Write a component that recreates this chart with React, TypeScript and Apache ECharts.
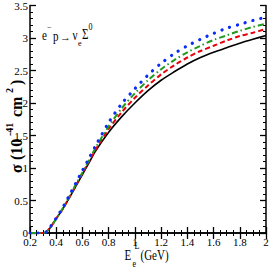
import React, { useEffect, useRef } from "react";
import * as echarts from "echarts";

const energies = [0.2, 0.25, 0.3, 0.32, 0.35, 0.4, 0.45, 0.5, 0.55, 0.6, 0.65, 0.7, 0.8, 0.9, 1.0, 1.1, 1.2, 1.3, 1.4, 1.5, 1.6, 1.7, 1.8, 1.9, 2.0];
const blackSolid = [0, 0, 0, 0.01, 0.07, 0.22, 0.37, 0.54, 0.72, 0.9, 1.08, 1.26, 1.55, 1.79, 2.0, 2.19, 2.35, 2.48, 2.6, 2.7, 2.78, 2.85, 2.92, 2.98, 3.04];
const redDashed = [0, 0, 0, 0.01, 0.07, 0.22, 0.37, 0.55, 0.73, 0.92, 1.1, 1.28, 1.6, 1.86, 2.08, 2.27, 2.44, 2.58, 2.7, 2.8, 2.88, 2.96, 3.03, 3.08, 3.14];
const greenDashDot = [0, 0, 0, 0.01, 0.07, 0.22, 0.38, 0.56, 0.75, 0.93, 1.12, 1.31, 1.64, 1.92, 2.15, 2.35, 2.52, 2.66, 2.78, 2.88, 2.97, 3.04, 3.11, 3.17, 3.22];
const blueDotted = [0, 0, 0, 0.01, 0.08, 0.23, 0.39, 0.58, 0.77, 0.96, 1.15, 1.34, 1.7, 1.99, 2.22, 2.43, 2.61, 2.76, 2.88, 2.98, 3.07, 3.15, 3.21, 3.27, 3.32];

const xTicks = [0.2, 0.4, 0.6, 0.8, 1, 1.2, 1.4, 1.6, 1.8, 2];
const yTicks = [0, 0.5, 1, 1.5, 2, 2.5, 3, 3.5];

const FONT = "Liberation Serif";

function fmt(v: number) {
  return String(Math.round(v * 100) / 100);
}

function txt(text: string, x: number, y: number, fontSize: number, extra: any = {}) {
  const { scaleY = 1, fontWeight = "normal", ...rest } = extra;
  return {
    type: "text", x, y, scaleY,
    style: { text, fontFamily: FONT, fontSize, fontWeight, fill: "#000", align: "left", verticalAlign: "middle" },
    ...rest,
  };
}

export default function App() {
  const ref = useRef<HTMLDivElement>(null);
  useEffect(() => {
    const chart = echarts.init(ref.current!, null, { renderer: "svg" });
    const pairs = (ys: number[]) => energies.map((x, i) => [x, ys[i]]);
    const axisCommon = {
      type: "value" as const,
      axisLine: { show: true, lineStyle: { color: "#000", width: 1.5 } },
      axisTick: { show: true, inside: true, length: 6, lineStyle: { color: "#000", width: 1.3 } },
      minorTick: { show: true, length: 3, lineStyle: { color: "#000", width: 1 } },
      splitLine: { show: false },
    };
    const S = 1.3;
    chart.setOption({
      animation: false,
      grid: { left: 30, right: 7, top: 5, bottom: 40 },
      xAxis: [
        {
          ...axisCommon,
          min: 0.2, max: 2, interval: 0.2,
          minorTick: { ...axisCommon.minorTick, splitNumber: 4 },
          axisLabel: { fontFamily: FONT, fontSize: 11, color: "#000", margin: 3, formatter: (v: number) => fmt(v) },
        },
        {
          ...axisCommon,
          position: "top",
          min: 0.2, max: 2, interval: 0.2,
          minorTick: { ...axisCommon.minorTick, splitNumber: 4 },
          axisLabel: { show: false },
        },
      ],
      yAxis: [
        {
          ...axisCommon,
          min: 0, max: 3.5, interval: 0.5,
          minorTick: { ...axisCommon.minorTick, splitNumber: 5 },
          axisLabel: { fontFamily: FONT, fontSize: 11, color: "#000", margin: 2, formatter: (v: number) => fmt(v) },
        },
        {
          ...axisCommon,
          position: "right",
          min: 0, max: 3.5, interval: 0.5,
          minorTick: { ...axisCommon.minorTick, splitNumber: 5 },
          axisLabel: { show: false },
        },
      ],
      series: [
        {
          type: "line", data: pairs(blackSolid), showSymbol: false, smooth: 0.3,
          lineStyle: { color: "#000", width: 1.6, type: "solid" },
        },
        {
          type: "line", data: pairs(redDashed), showSymbol: false, smooth: 0.3,
          lineStyle: { color: "#e8000b", width: 2, type: [5, 3] },
        },
        {
          type: "line", data: pairs(greenDashDot), showSymbol: false, smooth: 0.3,
          lineStyle: { color: "#1f9a1f", width: 2, type: [6, 3, 1.5, 3] },
        },
        {
          type: "line", data: pairs(blueDotted), showSymbol: false, smooth: 0.3,
          lineStyle: { color: "#0a2cf5", width: 3.2, type: [0.1, 8], cap: "round" },
        },
      ],
      graphic: [
        // reaction annotation: e⁻ p → ν_e Σ⁰
        txt("e", 42, 36, 11, { scaleY: S }),
        txt("−", 47, 27, 8),
        txt("p", 53, 37, 11, { scaleY: S }),
        txt("→", 60, 37, 11),
        txt("ν", 72.5, 36, 11, { scaleY: S }),
        txt("e", 78, 43, 8),
        txt("Σ", 82, 35, 11, { scaleY: S }),
        txt("0", 88.5, 27, 8, { scaleY: S }),
        // x axis title: E_e^L (GeV)
        txt("E", 124.5, 256, 11, { scaleY: S }),
        txt("e", 132.5, 264, 8, { scaleY: S }),
        txt("L", 134.5, 245.5, 8, { scaleY: S }),
        txt("(GeV)", 140.5, 256, 11, { scaleY: S }),
        // y axis title: σ (10^-41 cm^2)
        {
          type: "group", x: 16, y: 173, rotation: Math.PI / 2,
          children: [
            txt("σ", 0, 0, 16, { fontWeight: "bold" }),
            txt("(10", 13, 0, 16, { fontWeight: "bold" }),
            txt("-41", 37, -6.5, 10, { fontWeight: "bold" }),
            txt("cm", 56, 0, 16, { fontWeight: "bold" }),
            txt("2", 80, -6.5, 10, { fontWeight: "bold" }),
            txt(")", 88, 0, 16, { fontWeight: "bold" }),
          ],
        },
      ],
    });
    return () => chart.dispose();
  }, []);
  return <div ref={ref} style={{ width: 273, height: 273, position: "absolute", left: 0, top: 0 }} />;
}
